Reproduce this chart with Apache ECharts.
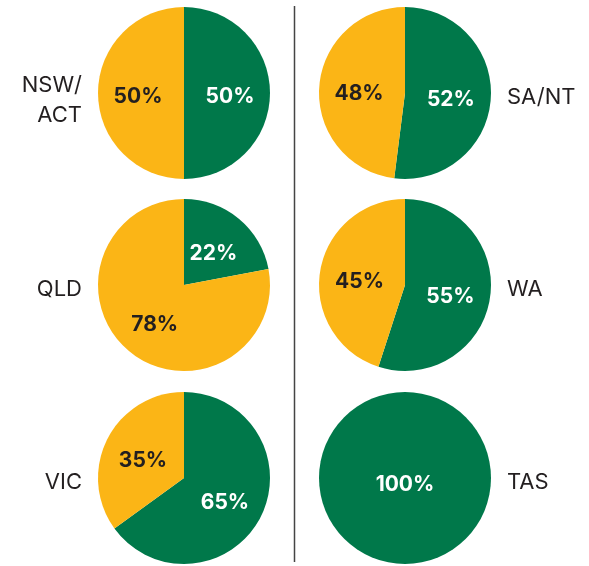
<!DOCTYPE html>
<html>
<head>
<meta charset="utf-8">
<script src="https://cdn.jsdelivr.net/npm/echarts@6/dist/echarts.min.js"></script>
<style>
  html, body { margin: 0; padding: 0; background: #fff; }
  #chart { width: 589px; height: 566px; }
</style>
</head>
<body>
<div id="chart"></div>
<script>
// regions in order: left column top->bottom, then right column
const regions = ["NSW/\nACT", "QLD", "VIC", "SA/NT", "WA", "TAS"];
const greenShare = [50, 22, 65, 52, 55, 100];
const yellowShare = [50, 78, 35, 48, 45, 0];

const GREEN = "#00784a";
const YELLOW = "#fbb516";
const TEXT = "#231f20";

// layout
const colX = [184, 405];
const rowY = [93, 285, 478];
const radius = 86;

const chart = echarts.init(document.getElementById("chart"));

const series = regions.map((name, i) => {
  const col = i < 3 ? 0 : 1;
  const row = i % 3;
  const full = yellowShare[i] === 0;
  return {
    type: "pie",
    name: name,
    center: [colX[col], rowY[row]],
    radius: [0, radius],
    startAngle: 90,
    clockwise: true,
    silent: true,
    animation: false,
    minAngle: 0,
    label: {
      show: true,
      position: full ? "center" : "inside",
      formatter: "{c}%",
      fontFamily: "Inter",
      fontWeight: "bold",
      fontSize: 21,
      offset: [0, full ? 7 : 4]
    },
    labelLine: { show: false },
    data: [
      {
        value: greenShare[i],
        itemStyle: { color: GREEN },
        label: { color: "#ffffff" }
      },
      {
        value: yellowShare[i],
        itemStyle: { color: YELLOW },
        label: { color: TEXT, show: yellowShare[i] > 0 }
      }
    ]
  };
});

const regionText = regions.map((name, i) => {
  const left = i < 3;
  const row = i % 3;
  const twoLines = name.includes("\n");
  return {
    type: "text",
    left: left ? undefined : 507,
    right: left ? 589 - 82 : undefined,
    top: rowY[row] + (twoLines ? -23 : -11),
    style: {
      text: name,
      fill: TEXT,
      font: "22px Inter",
      lineHeight: 30,
      textAlign: left ? "right" : "left"
    }
  };
});

chart.setOption({
  backgroundColor: "#ffffff",
  series: series,
  graphic: [
    {
      type: "line",
      shape: { x1: 294.5, y1: 6, x2: 294.5, y2: 562 },
      style: { stroke: "#444444", lineWidth: 1.5 }
    }
  ].concat(regionText)
});
</script>
</body>
</html>
